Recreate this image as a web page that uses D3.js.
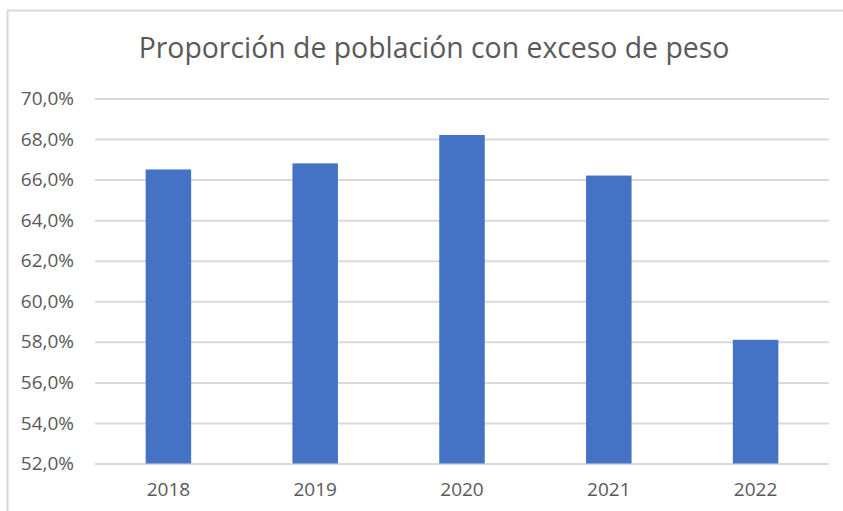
<!DOCTYPE html>
<html>
<head>
<meta charset="utf-8">
<script src="https://cdn.jsdelivr.net/npm/d3@7"></script>
<style>
  html, body { margin: 0; padding: 0; background: #ffffff; }
  svg { display: block; }
  text { font-family: "Open Sans", "Noto Sans", sans-serif; fill: #595959; }
</style>
</head>
<body>
<svg id="chart" width="843" height="511"></svg>
<script>
// ---- Data ----
const years = ["2018", "2019", "2020", "2021", "2022"];
const values = [66.5, 66.8, 68.2, 66.2, 58.1];
const yTicks = [52, 54, 56, 58, 60, 62, 64, 66, 68, 70];
const title = "Proporción de población con exceso de peso";

// ---- Layout ----
const W = 843, H = 511;
const plot = { left: 95, right: 829, top: 98.5, bottom: 463.5 };

const svg = d3.select("#chart");

// outer chart border (extends past the cropped right/bottom edges)
svg.append("rect")
  .attr("x", 7.5).attr("y", 10.5)
  .attr("width", W + 20).attr("height", H + 20)
  .attr("fill", "#ffffff")
  .attr("stroke", "#d9d9d9")
  .attr("stroke-width", 2);

const locale = d3.formatLocale({ decimal: ",", thousands: ".", grouping: [3], currency: ["", "€"] });
const fmt = locale.format(".1f");

const x = d3.scaleBand().domain(years).range([plot.left, plot.right]).padding(0);
const y = d3.scaleLinear().domain([52, 70]).range([plot.bottom, plot.top]);

// gridlines
const yAxis = d3.axisLeft(y)
  .tickValues(yTicks)
  .tickSize(-(plot.right - plot.left))
  .tickPadding(21)
  .tickFormat(d => fmt(d) + "%");

const gy = svg.append("g")
  .attr("transform", `translate(${plot.left},0)`)
  .call(yAxis);
gy.select(".domain").remove();
gy.selectAll(".tick line").attr("stroke", "#d9d9d9").attr("stroke-width", 2);
gy.selectAll(".tick text")
  .attr("font-size", 19)
  .attr("fill", "#595959")
  .style("font-family", '"Open Sans", "Noto Sans", sans-serif');

// bars
const barFrac = 0.31;
const bw = x.bandwidth() * barFrac;
svg.append("g").selectAll("rect")
  .data(years.map((yr, i) => ({ yr, v: values[i] })))
  .join("rect")
  .attr("x", d => x(d.yr) + (x.bandwidth() - bw) / 2)
  .attr("y", d => y(d.v))
  .attr("width", bw)
  .attr("height", d => y(52) - y(d.v))
  .attr("fill", "#4472c4");

// x axis labels
const xAxis = d3.axisBottom(x).tickSize(0).tickPadding(19);
const gx = svg.append("g")
  .attr("transform", `translate(0,${plot.bottom})`)
  .call(xAxis);
gx.select(".domain").remove();
gx.selectAll(".tick text")
  .attr("font-size", 19)
  .attr("fill", "#595959")
  .style("font-family", '"Open Sans", "Noto Sans", sans-serif');

// title
const t = svg.append("text")
  .attr("x", 434)
  .attr("y", 57.5)
  .attr("text-anchor", "middle")
  .attr("font-size", 25)
  .attr("fill", "#595959")
  .text(title);
const tw = t.node().getComputedTextLength();
t.attr("font-size", 25 * 591 / tw);
</script>
</body>
</html>
